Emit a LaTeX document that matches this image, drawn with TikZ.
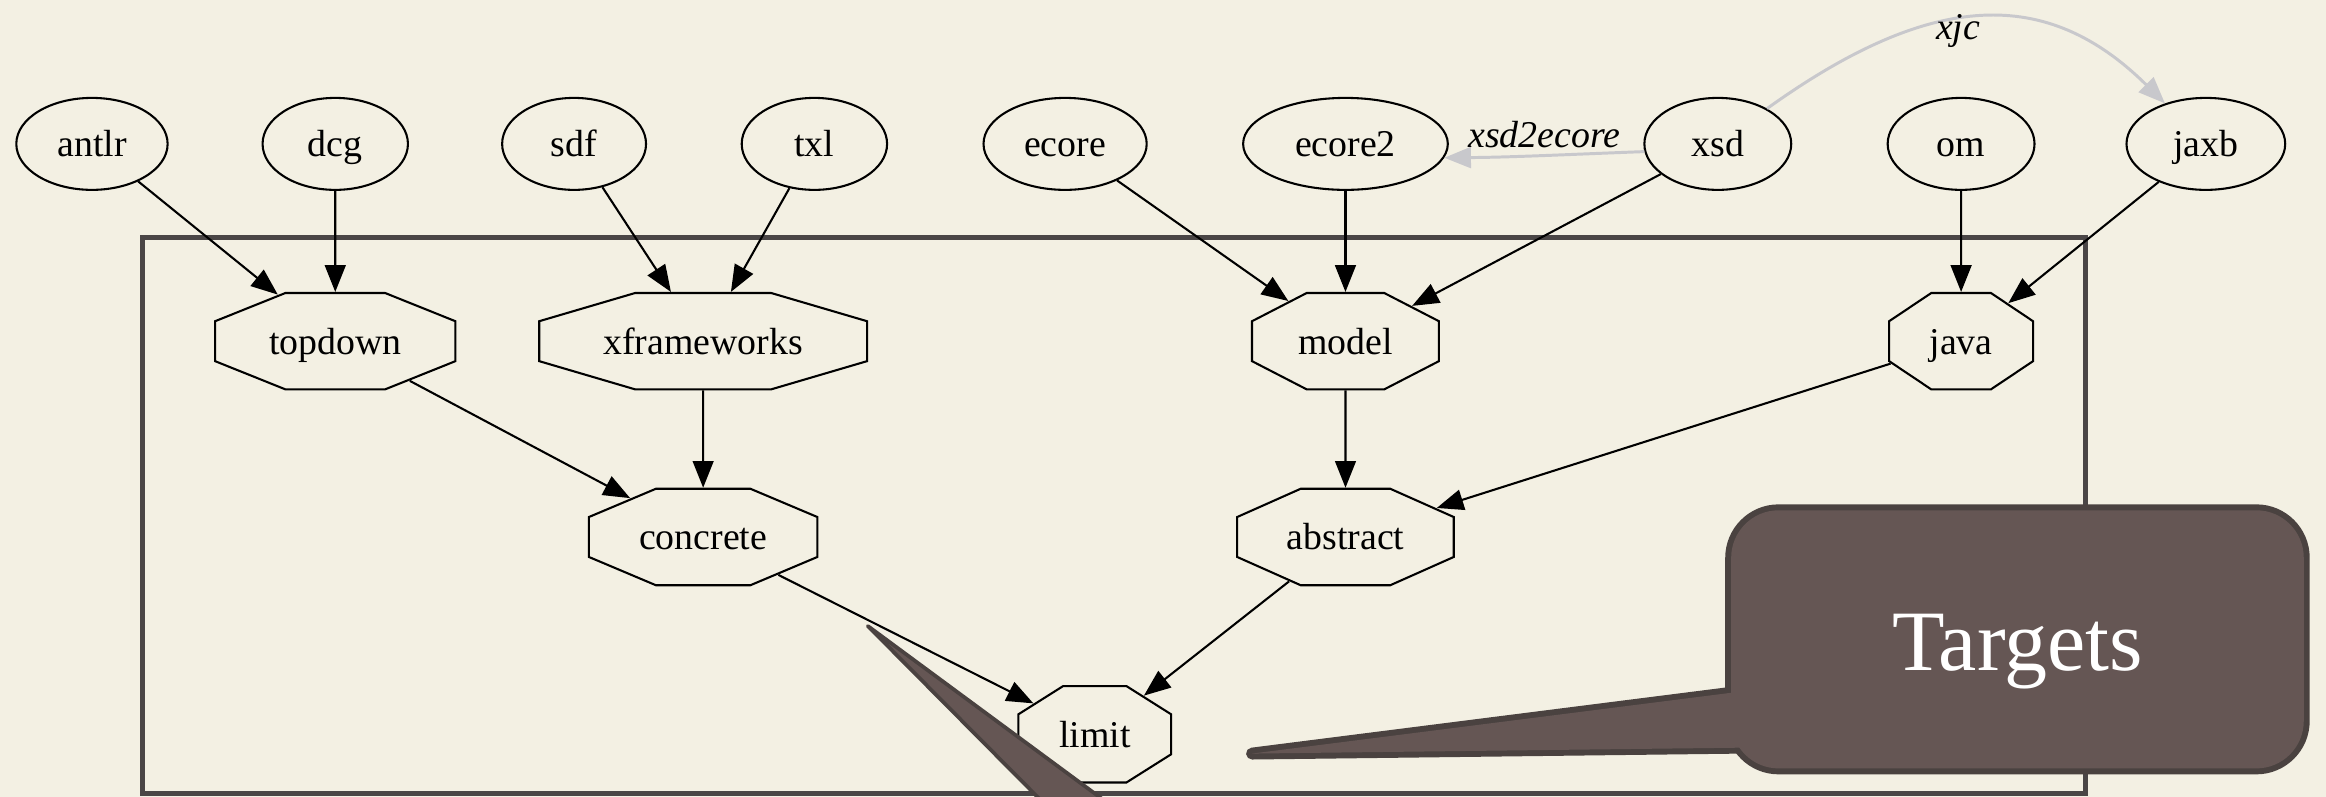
\documentclass[tikz,border=0pt]{standalone}
\usepackage{fontspec}
\setmainfont{Liberation Serif}
\usetikzlibrary{shapes.geometric,arrows.meta}
\definecolor{bg}{HTML}{F3F0E3}
\definecolor{clusterc}{HTML}{4A4646}
\definecolor{callfill}{HTML}{655654}
\definecolor{callborder}{HTML}{4A4240}
\definecolor{lightedge}{HTML}{C8C8CC}
% octagon node: name, x, y, width, text (height is 65)
\newcommand\gvoct[5]{%
  \begin{scope}[shift={(#2,#3)}]
    \node[octbase, xscale=\fpeval{#4/65}, transform shape] (#1) at (0,0) {\scalebox{\fpeval{65/#4}}[1]{#5}};
  \end{scope}}
\begin{document}
\begin{tikzpicture}[x=1pt,y=-1pt,
  every node/.style={font=\fontsize{25.5pt}{30pt}\selectfont, text=black, text height=17.5pt, text depth=0pt},
  src/.style={ellipse, draw=black, line width=1.4pt, inner sep=0pt, minimum height=62pt},
  octbase/.style={regular polygon, regular polygon sides=8, draw=black, line width=1.4pt, inner sep=0pt, minimum size=70.36pt},
  arr/.style={draw=black, line width=1.4pt, -{Triangle[length=18pt,width=14pt]}},
  grayedge/.style={draw=lightedge, line width=2pt, -{Triangle[length=18pt,width=14pt]}},
  elabel/.style={font=\fontsize{25.5pt}{30pt}\selectfont\itshape}
]
\useasboundingbox (0,0) rectangle (1568,537);
\clip (0,0) rectangle (1568,537);
\fill[bg] (0,0) rectangle (1568,537);

% cluster
\draw[clusterc, line width=3pt] (96,160) rectangle (1406,535);

% source nodes
\node[src, minimum width=102pt] (antlr) at (62,97) {antlr};
\node[src, minimum width=98pt] (dcg) at (226,97) {dcg};
\node[src, minimum width=97pt] (sdf) at (387,97) {sdf};
\node[src, minimum width=98pt] (txl) at (549,97) {txl};
\node[src, minimum width=110pt] (ecore) at (718,97) {ecore};
\node[src, minimum width=138pt] (ecore2) at (907,97) {ecore2};
\node[src, minimum width=99pt] (xsd) at (1158,97) {xsd};
\node[src, minimum width=99pt] (om) at (1322,97) {om};
\node[src, minimum width=107pt] (jaxb) at (1487,97) {jaxb};

% octagon nodes
\gvoct{topdown}{226}{230}{162}{topdown}
\gvoct{xframeworks}{474}{230}{221}{xframeworks}
\gvoct{model}{907}{230}{126}{model}
\gvoct{java}{1322}{230}{97}{java}
\gvoct{concrete}{474}{362}{154}{concrete}
\gvoct{abstract}{907}{362}{146}{abstract}
\gvoct{limit}{738}{495}{103}{limit}

% edges
\draw[arr] (antlr) -- (topdown);
\draw[arr] (dcg) -- (topdown);
\draw[arr] (sdf) -- (xframeworks);
\draw[arr] (txl) -- (xframeworks);
\draw[arr] (ecore) -- (model);
\draw[arr] (ecore2) -- (model);
\draw[arr] (xsd) -- (model);
\draw[arr] (om) -- (java);
\draw[arr] (jaxb) -- (java);
\draw[arr] (topdown) -- (concrete);
\draw[arr] (xframeworks) -- (concrete);
\draw[arr] (model) -- (abstract);
\draw[arr] (java) -- (abstract);
\draw[arr] (concrete) -- (limit);
\draw[arr] (abstract) -- (limit);

% gray labelled edges
\draw[grayedge] (xsd.186) .. controls (1060,104) and (1020,106) .. (ecore2.352);
\node[elabel] (lblxtoe) at (1041,91) {xsd2ecore};
\draw[grayedge] (xsd) .. controls (1303,-7) and (1380,-9) .. (jaxb);
\node[elabel] (lblxjc) at (1320,18) {xjc};

% lower callout pointer (wedge)
\filldraw[fill=callfill, draw=callborder, line width=2.5pt, line join=round] (585,422) -- (772,560) -- (722,560) -- cycle;

% callout
\path[draw=callborder, fill=callborder, line width=8pt, line join=round, rounded corners=32pt] (1167,344) rectangle (1553,518);
\path[draw=callborder, fill=callborder, line width=8pt, line join=round] (844,508) -- (1175,466) -- (1175,504) -- cycle;
\fill[callfill, rounded corners=32pt] (1167,344) rectangle (1553,518);
\fill[callfill] (844,508) -- (1175,466) -- (1175,504) -- cycle;
\node[text=white, font=\fontsize{58pt}{68pt}\selectfont, anchor=base] (targets) at (1360,452) {Targets};
\end{tikzpicture}
\end{document}
